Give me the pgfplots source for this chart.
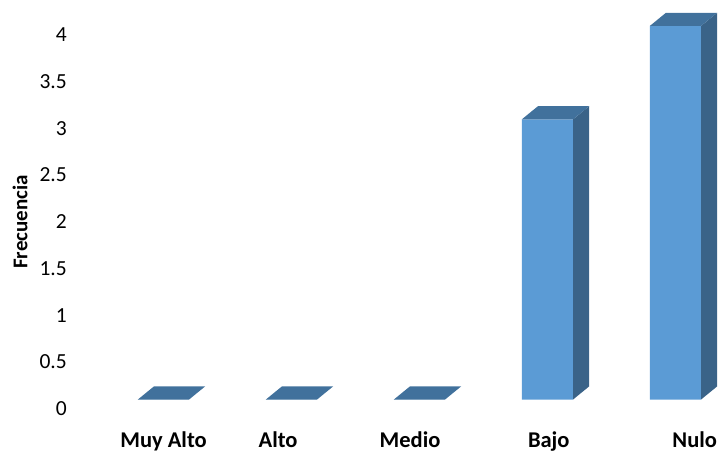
\documentclass[border=0pt]{standalone}
\usepackage{pgfplots}
\pgfplotsset{compat=1.18}
\usepackage{fontspec}
\setmainfont{Carlito}
\definecolor{front}{HTML}{5B9BD5}
\definecolor{topc}{HTML}{41719C}
\definecolor{side}{HTML}{3A6388}
\begin{document}
\begin{tikzpicture}
\path[use as bounding box] (0,0) rectangle (723bp,454bp);
\begin{axis}[
  at={(99.5bp,54.5bp)}, anchor=south west,
  scale only axis, width=614.4bp, height=373.6bp,
  xmin=-0.5, xmax=4.3, ymin=0, ymax=4,
  clip=false,
  axis line style={draw=none},
  major tick length=0pt,
  ytick={0,0.5,1,1.5,2,2.5,3,3.5,4},
  ytick pos=left, xtick pos=bottom,
  xtick={0,0.895,1.926,3.01,4.15},
  xticklabels={Muy Alto,Alto,Medio,Bajo,Nulo},
  /pgf/number format/assume math mode=true,
  yticklabel style={font=\fontsize{21.5bp}{24bp}\selectfont, anchor=east, inner sep=0pt, xshift=-32.5bp, yshift=-9bp},
  xticklabel style={font=\fontsize{22.5bp}{25bp}\selectfont\bfseries, anchor=base, inner sep=0pt, yshift=-48bp},
  ylabel={Frecuencia},
  every axis y label/.style={at={(axis description cs:-0.1294,0.475)}, rotate=90, anchor=center, font=\fontsize{21bp}{24bp}\selectfont\bfseries},
]
% front faces
\addplot[ybar, bar width=0.4, fill=front, draw=none] coordinates {(0,0) (1,0) (2,0) (3,3) (4,4)};
% side faces
\addplot[fill=side, draw=none] coordinates {(3.2,0) (3.325,0.14) (3.325,3.14) (3.2,3)} --cycle;
\addplot[fill=side, draw=none] coordinates {(4.2,0) (4.325,0.14) (4.325,4.14) (4.2,4)} --cycle;
% top faces
\addplot[fill=topc, draw=none] coordinates {(-0.2,0) (0.2,0) (0.325,0.14) (-0.075,0.14)} --cycle;
\addplot[fill=topc, draw=none] coordinates {(0.8,0) (1.2,0) (1.325,0.14) (0.925,0.14)} --cycle;
\addplot[fill=topc, draw=none] coordinates {(1.8,0) (2.2,0) (2.325,0.14) (1.925,0.14)} --cycle;
\addplot[fill=topc, draw=none] coordinates {(2.8,3) (3.2,3) (3.325,3.14) (2.925,3.14)} --cycle;
\addplot[fill=topc, draw=none] coordinates {(3.8,4) (4.2,4) (4.325,4.14) (3.925,4.14)} --cycle;
\end{axis}
\end{tikzpicture}
\end{document}
